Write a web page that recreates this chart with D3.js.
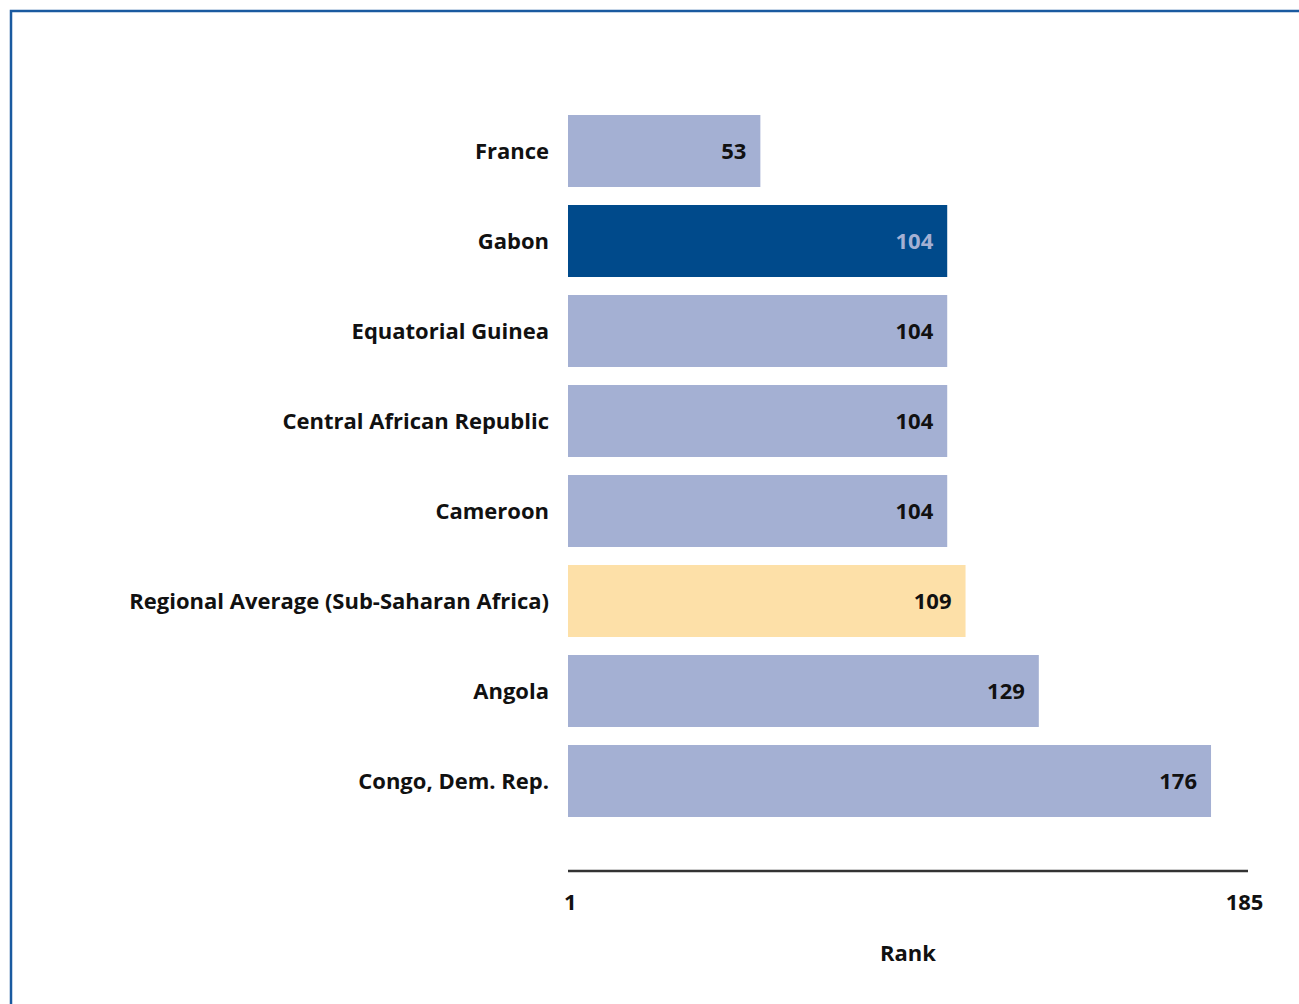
<!DOCTYPE html>
<html>
<head>
<meta charset="utf-8">
<script src="https://cdn.jsdelivr.net/npm/d3@7"></script>
<style>
  html, body { margin: 0; padding: 0; background: #fff; }
  svg { display: block; }
  text { font-family: "Open Sans", "Noto Sans", sans-serif; font-weight: 700; fill: #111; }
</style>
</head>
<body>
<script>
const categories = ["France", "Gabon", "Equatorial Guinea", "Central African Republic", "Cameroon", "Regional Average (Sub-Saharan Africa)", "Angola", "Congo, Dem. Rep."];
const values = [53, 104, 104, 104, 104, 109, 129, 176];
const kinds = ["other", "focus", "other", "other", "other", "region", "other", "other"];
const tickValues = [1, 185];
const axisTitle = "Rank";

const W = 1299, H = 1004;
const colors = { other: "#a4b0d3", focus: "#004a8b", region: "#fde0a8" };
const labelColors = { other: "#111", focus: "#a4b0d3", region: "#111" };

const svg = d3.select("body").append("svg").attr("width", W).attr("height", H);

// frame
svg.append("path")
  .attr("d", `M11,${H} V11 H${W}`)
  .attr("fill", "none").attr("stroke", "#1a5aa0").attr("stroke-width", 2.5);

const x = d3.scaleLinear().domain([0.5, 185]).range([568, 1244]);
const y = d3.scaleBand().domain(categories).range([106, 826]).paddingInner(0.2).paddingOuter(0.1);

const rows = categories.map((c, i) => ({ c, v: values[i], k: kinds[i] }));

svg.append("g").selectAll("rect").data(rows).join("rect")
  .attr("x", x(0.5))
  .attr("y", d => y(d.c))
  .attr("width", d => x(d.v) - x(0.5))
  .attr("height", y.bandwidth())
  .attr("fill", d => colors[d.k]);

svg.append("g").selectAll("text").data(rows).join("text")
  .attr("x", d => x(d.v) - 14)
  .attr("y", d => y(d.c) + y.bandwidth() / 2)
  .attr("dy", "0.35em")
  .attr("text-anchor", "end")
  .style("font-size", "22px")
  .style("fill", d => labelColors[d.k])
  .text(d => d.v);

svg.append("g").selectAll("text").data(rows).join("text")
  .attr("x", 549)
  .attr("y", d => y(d.c) + y.bandwidth() / 2)
  .attr("dy", "0.35em")
  .attr("text-anchor", "end")
  .style("font-size", "22px")
  .text(d => d.c);

const axis = d3.axisBottom(x).tickValues(tickValues).tickSize(0).tickPadding(23).tickFormat(d3.format("d"));
const ag = svg.append("g").attr("transform", "translate(0,871)").call(axis);
ag.select(".domain").attr("stroke", "#333").attr("stroke-width", 2.5)
  .attr("d", `M${x.range()[0]},0H${x.range()[1] + 4}`);
ag.selectAll(".tick text").style("font-size", "22px").style("font-family", "'Open Sans', sans-serif").style("font-weight", 700).attr("fill", "#111");

svg.append("text")
  .attr("x", (x.range()[0] + x.range()[1] + 4) / 2)
  .attr("y", 953)
  .attr("dy", "0.35em")
  .attr("text-anchor", "middle")
  .style("font-size", "22px")
  .text(axisTitle);
</script>
</body>
</html>
